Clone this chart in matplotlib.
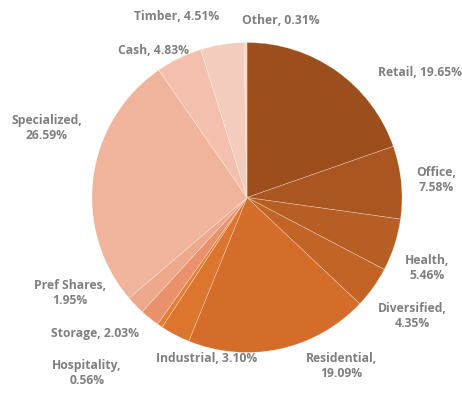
import numpy as np
import matplotlib.pyplot as plt

labels = ['Retail', 'Office', 'Health', 'Diversified', 'Residential', 'Industrial',
          'Hospitality', 'Storage', 'Pref Shares', 'Specialized', 'Cash', 'Timber', 'Other']
values = [19.65, 7.58, 5.46, 4.35, 19.09, 3.10, 0.56, 2.03, 1.95, 26.59, 4.83, 4.51, 0.31]

colors = ['#9C4F1C', '#AB5620', '#B75E24', '#C26426', '#D46D2A', '#DC752D',
          '#E47F32', '#EA916B', '#EEA88C', '#F0B39B', '#F2C0AC', '#F4CCBD', '#F6D6CA']

# label text & placement (pixel coords of label centre in the 462x396 picture)
label_text = ['Retail, 19.65%', 'Office,\n7.58%', 'Health,\n5.46%', 'Diversified,\n4.35%',
              'Residential,\n19.09%', 'Industrial, 3.10%', 'Hospitality,\n0.56%',
              'Storage, 2.03%', 'Pref Shares,\n1.95%', 'Specialized,\n26.59%',
              'Cash, 4.83%', 'Timber, 4.51%', 'Other, 0.31%']
label_px = [(420, 73), (436, 180), (427, 268), (412, 316), (341, 366), (207, 358),
            (87, 373), (95, 333), (70, 293), (47, 128), (154, 50), (177, 17), (281, 21)]

W, H = 462, 396
cx, cy, r = 247, 197.5, 155


def main():
    fig = plt.figure(figsize=(W / 100, H / 100), dpi=100)
    ax = fig.add_axes([(cx - r) / W, (H - cy - r) / H, 2 * r / W, 2 * r / H])
    ax.pie(values, colors=colors, startangle=90, counterclock=False, radius=1,
           wedgeprops=dict(edgecolor=(1, 1, 1, 0.45), linewidth=0.4))
    ax.set_xlim(-1, 1)
    ax.set_ylim(-1, 1)
    ax.set_aspect('equal')
    ax.axis('off')

    for txt, (px, py) in zip(label_text, label_px):
        ax.text((px - cx) / r, (cy - py) / r, txt, ha='center', va='center',
                fontsize=8.7, fontweight='bold', color='#7F7F7F', family='Open Sans',
                linespacing=1.2, clip_on=False)

    fig.savefig('out.png', dpi=100)


if __name__ == '__main__':
    main()
